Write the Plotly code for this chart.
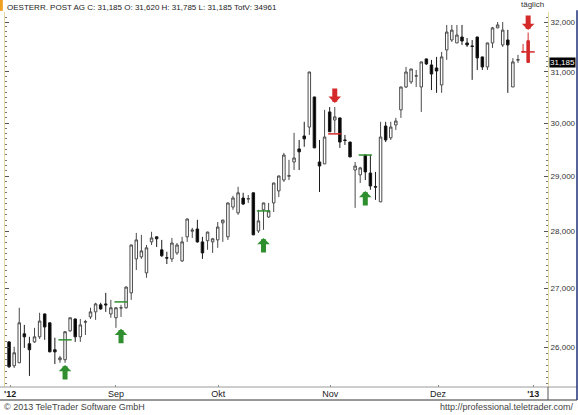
import numpy as np
import plotly.graph_objects as go

# ---------------- data (EUR) ----------------
days = list(range(103))
opens = [26.090, 25.695, 25.745, 26.225, 26.060, 26.090, 26.175, 26.560, 26.410, 25.960,
         25.795, 25.795, 26.275, 26.475, 26.175, 26.420, 26.510, 26.595, 26.715, 26.730,
         26.560, 26.495, 26.660, 26.665, 26.920, 27.510, 27.545, 27.265, 27.810, 27.900,
         27.670, 27.530, 27.510, 27.615, 27.475, 27.900, 28.000, 28.040, 27.810, 27.830,
         27.810, 27.845, 28.150, 27.900, 28.435, 28.330, 28.600, 28.580, 28.695, 28.005,
         28.385, 28.255, 28.510, 28.730, 28.930, 29.000, 29.265, 29.510, 29.755, 29.925,
         30.505, 29.265, 29.230, 30.215, 30.060, 30.100, 29.680, 29.640, 29.115, 29.025,
         29.395, 29.060, 28.810, 28.530, 29.945, 29.720, 29.965, 30.255, 30.700, 30.800,
         30.915, 30.700, 31.255, 31.135, 31.075, 30.740, 31.435, 31.635, 31.575, 31.695,
         31.575, 31.515, 31.695, 31.295, 31.095, 31.575, 31.880, 31.535, 31.635, 30.700,
         31.230, 31.405, 31.620]
highs = [26.105, 26.010, 26.665, 26.375, 26.175, 26.325, 26.580, 26.565, 26.410, 26.160,
         25.860, 26.270, 26.495, 26.480, 26.475, 26.460, 26.665, 26.750, 26.750, 26.920,
         26.800, 26.670, 26.715, 27.030, 27.760, 27.970, 27.935, 27.755, 27.990, 27.905,
         27.845, 27.635, 27.880, 27.790, 27.900, 28.225, 28.060, 28.205, 27.900, 27.990,
         27.880, 28.165, 28.205, 28.515, 28.640, 28.805, 28.695, 28.655, 28.700, 28.385,
         28.515, 28.510, 28.880, 29.010, 29.435, 29.305, 29.815, 29.680, 30.025, 31.000,
         30.510, 29.680, 30.255, 30.310, 30.310, 30.105, 29.775, 29.645, 29.265, 29.175,
         29.400, 29.400, 29.080, 30.025, 30.025, 30.025, 30.100, 30.705, 31.095, 31.055,
         31.035, 31.200, 31.260, 31.235, 31.295, 31.395, 31.940, 31.940, 31.940, 31.940,
         31.675, 31.635, 31.700, 31.300, 31.580, 31.900, 32.000, 32.000, 31.840, 31.270,
         31.335, 31.555, 31.785]
lows = [25.660, 25.660, 25.740, 25.990, 25.530, 26.075, 26.140, 26.125, 25.920, 25.725,
        25.745, 25.745, 26.260, 26.090, 26.090, 26.205, 26.475, 26.460, 26.630, 26.595,
        26.495, 26.325, 26.510, 26.650, 26.800, 27.315, 27.510, 27.180, 27.755, 27.720,
        27.545, 27.420, 27.455, 27.580, 27.455, 27.810, 27.880, 27.795, 27.510, 27.670,
        27.615, 27.705, 27.810, 27.845, 28.385, 28.295, 28.475, 28.510, 27.930, 27.970,
        28.025, 28.240, 28.345, 28.620, 28.895, 28.930, 29.115, 29.115, 29.550, 29.775,
        29.525, 28.710, 29.225, 29.830, 29.815, 29.530, 29.585, 29.355, 28.420, 28.875,
        28.930, 28.750, 28.565, 28.525, 29.640, 29.680, 29.870, 30.100, 30.680, 30.760,
        30.700, 30.215, 31.135, 30.640, 30.585, 30.585, 31.235, 31.595, 31.575, 31.535,
        31.495, 30.840, 31.035, 31.035, 31.035, 31.475, 31.875, 31.495, 30.585, 30.700,
        31.175, 31.395, 31.185]
closes = [25.680, 25.910, 26.410, 26.175, 25.960, 26.175, 26.440, 26.340, 25.925, 25.925,
          25.825, 26.260, 26.495, 26.175, 26.375, 26.430, 26.595, 26.730, 26.645, 26.715,
          26.665, 26.665, 26.665, 27.020, 27.755, 27.845, 27.650, 27.705, 27.880, 27.865,
          27.565, 27.525, 27.790, 27.755, 27.810, 28.220, 28.020, 27.810, 27.615, 27.985,
          27.865, 28.075, 28.200, 28.510, 28.600, 28.695, 28.490, 28.590, 27.935, 28.185,
          28.510, 28.365, 28.875, 29.005, 29.395, 29.010, 29.340, 29.455, 29.700, 30.995,
          29.530, 29.190, 29.735, 29.835, 30.120, 29.640, 29.670, 29.360, 29.190, 29.155,
          29.080, 28.820, 28.800, 29.735, 29.680, 29.925, 30.040, 30.700, 30.995, 31.055,
          30.920, 31.195, 31.155, 30.955, 31.015, 31.295, 31.795, 31.835, 31.735, 31.615,
          31.535, 31.505, 31.275, 31.095, 31.575, 31.880, 31.940, 31.835, 31.535, 31.195,
          31.240, 31.395, 31.185]
total_volume = 34961
n_highlight = 2  # last candles drawn in red

month_pos = [0.2, 21, 41.1, 63.1, 84.3, 103]
month_labels = ["<b>'12</b>", "Sep", "Okt", "Nov", "Dez", "<b>'13</b>"]
price_ticks = [26, 27, 28, 29, 30, 31, 32]

buy_idx = [11, 22, 50, 70]
buy_level = [26.125, 26.765, 28.365, 29.395]
buy_arrow = [25.710, 26.310, 27.880, 28.730]
sell_idx = [64, 102]
sell_level = [29.795, 31.395]
sell_arrow = [30.390, 31.837]

FONT = "Liberation Sans, Arial, sans-serif"
GREEN = "#2f8f2f"
RED = "#d42a2a"

def de(v):
    return f"{v:,.3f}".replace(",", "X").replace(".", ",").replace("X", ".")

fig = go.Figure()
k = len(days) - n_highlight
fig.add_trace(go.Candlestick(
    x=days[:k], open=opens[:k], high=highs[:k], low=lows[:k], close=closes[:k],
    increasing=dict(line=dict(color="#4a4a4a", width=1), fillcolor="#ffffff"),
    decreasing=dict(line=dict(color="#1a1a1a", width=1), fillcolor="#000000"),
    whiskerwidth=0, showlegend=False, hoverinfo="skip"))
fig.add_trace(go.Candlestick(
    x=days[k:], open=opens[k:], high=highs[k:], low=lows[k:], close=closes[k:],
    increasing=dict(line=dict(color=RED, width=1), fillcolor=RED),
    decreasing=dict(line=dict(color=RED, width=1), fillcolor=RED),
    whiskerwidth=0, showlegend=False, hoverinfo="skip"))

# signal levels
def seg(idx, lv):
    xs, ys = [], []
    for i, v in zip(idx, lv):
        xs += [i - 1.3, i + 1.3, None]
        ys += [v, v, None]
    return xs, ys

bx, by = seg(buy_idx, buy_level)
fig.add_trace(go.Scatter(x=bx, y=by, mode="lines", line=dict(color=GREEN, width=1.5),
                         showlegend=False, hoverinfo="skip"))
sx, sy = seg(sell_idx, sell_level)
fig.add_trace(go.Scatter(x=sx, y=sy, mode="lines", line=dict(color=RED, width=1.5),
                         showlegend=False, hoverinfo="skip"))

# arrows
for i, p in zip(buy_idx, buy_arrow):
    fig.add_annotation(x=i, y=np.log10(p), ax=0, ay=16, text="", showarrow=True,
                       arrowhead=1, arrowwidth=5, arrowsize=0.42, arrowcolor=GREEN)
for i, p in zip(sell_idx, sell_arrow):
    fig.add_annotation(x=i, y=np.log10(p), ax=0, ay=-16, text="", showarrow=True,
                       arrowhead=1, arrowwidth=5, arrowsize=0.42, arrowcolor=RED)

# last price box
fig.add_annotation(xref="paper", x=1.002, xanchor="left", yref="y", y=np.log10(closes[-1]),
                   text=de(closes[-1]), showarrow=False, bgcolor="#000000",
                   font=dict(color="#ffffff", size=8, family=FONT), borderpad=0)

header = (f"OESTERR. POST AG C: {de(closes[-1])} O: {de(opens[-1])} H: {de(highs[-1])} "
          f"L: {de(lows[-1])} TotV: {total_volume}")
fig.add_annotation(xref="paper", yref="paper", x=0.0, y=1.013, xanchor="left", yanchor="middle",
                   text=header, showarrow=False, font=dict(size=8, color="#222", family=FONT))
fig.add_annotation(xref="paper", yref="paper", x=0.972, y=1.019, xanchor="center", yanchor="middle",
                   text="täglich", showarrow=False, font=dict(size=8, color="#333", family=FONT))
fig.add_annotation(xref="paper", yref="paper", x=-0.006, y=-0.053, xanchor="left", yanchor="middle",
                   text="© 2013 TeleTrader Software GmbH", showarrow=False,
                   font=dict(size=9, color="#444", family=FONT))
fig.add_annotation(xref="paper", yref="paper", x=1.0516, y=-0.053, xanchor="right", yanchor="middle",
                   text="http://professional.teletrader.com/", showarrow=False,
                   font=dict(size=9, color="#444", family=FONT))

shapes = [
    dict(type="line", xref="paper", yref="paper", x0=-0.01, x1=1.0534, y0=0, y1=0,
         line=dict(color="#9a9a9a", width=1)),
    dict(type="line", xref="paper", yref="paper", x0=-0.01, x1=1.0534, y0=-0.0347, y1=-0.0347,
         line=dict(color="#333333", width=1)),
    dict(type="line", xref="paper", yref="paper", x0=1.0, x1=1.0, y0=-0.0347, y1=0,
         line=dict(color="#555555", width=1)),
    dict(type="line", xref="paper", yref="paper", x0=1.0534, x1=1.0534, y0=-0.0347, y1=1.005,
         line=dict(color="#1f2f7a", width=1.5)),
    dict(type="rect", xref="paper", yref="paper", x0=-0.0092, x1=-0.004, y0=1.003, y1=1.032,
         line=dict(width=0), fillcolor="#f0a020"),
]

fig.update_layout(
    width=578, height=415,
    margin=dict(l=5, r=30, t=12, b=28, autoexpand=False),
    paper_bgcolor="#ffffff", plot_bgcolor="#ffffff",
    separators=",.",
    showlegend=False,
    shapes=shapes,
    font=dict(family=FONT, size=9, color="#333"),
    xaxis=dict(range=[-0.8, 105.9], rangeslider=dict(visible=False), showgrid=False,
               zeroline=False, tickmode="array", tickvals=month_pos, ticktext=month_labels,
               ticks="inside", ticklen=2, tickcolor="#888", showline=False, automargin=False,
               tickfont=dict(size=9, color="#222", family=FONT)),
    yaxis=dict(type="log", range=[np.log10(25.350), np.log10(32.205)], side="right",
               showgrid=False, zeroline=False, tickmode="array", tickvals=price_ticks,
               tickformat=".3f", ticks="inside", ticklen=4, tickcolor="#555", automargin=False,
               showline=True, linecolor="#e6dca0", mirror="ticks",
               minor=dict(ticks="inside", ticklen=2, dtick="L0.1", tickcolor="#777"),
               tickfont=dict(size=8, color="#333", family=FONT)),
)

fig.write_html("out.html", config={"displayModeBar": False},
               post_script="document.body.style.margin='0';document.body.style.padding='0';")
